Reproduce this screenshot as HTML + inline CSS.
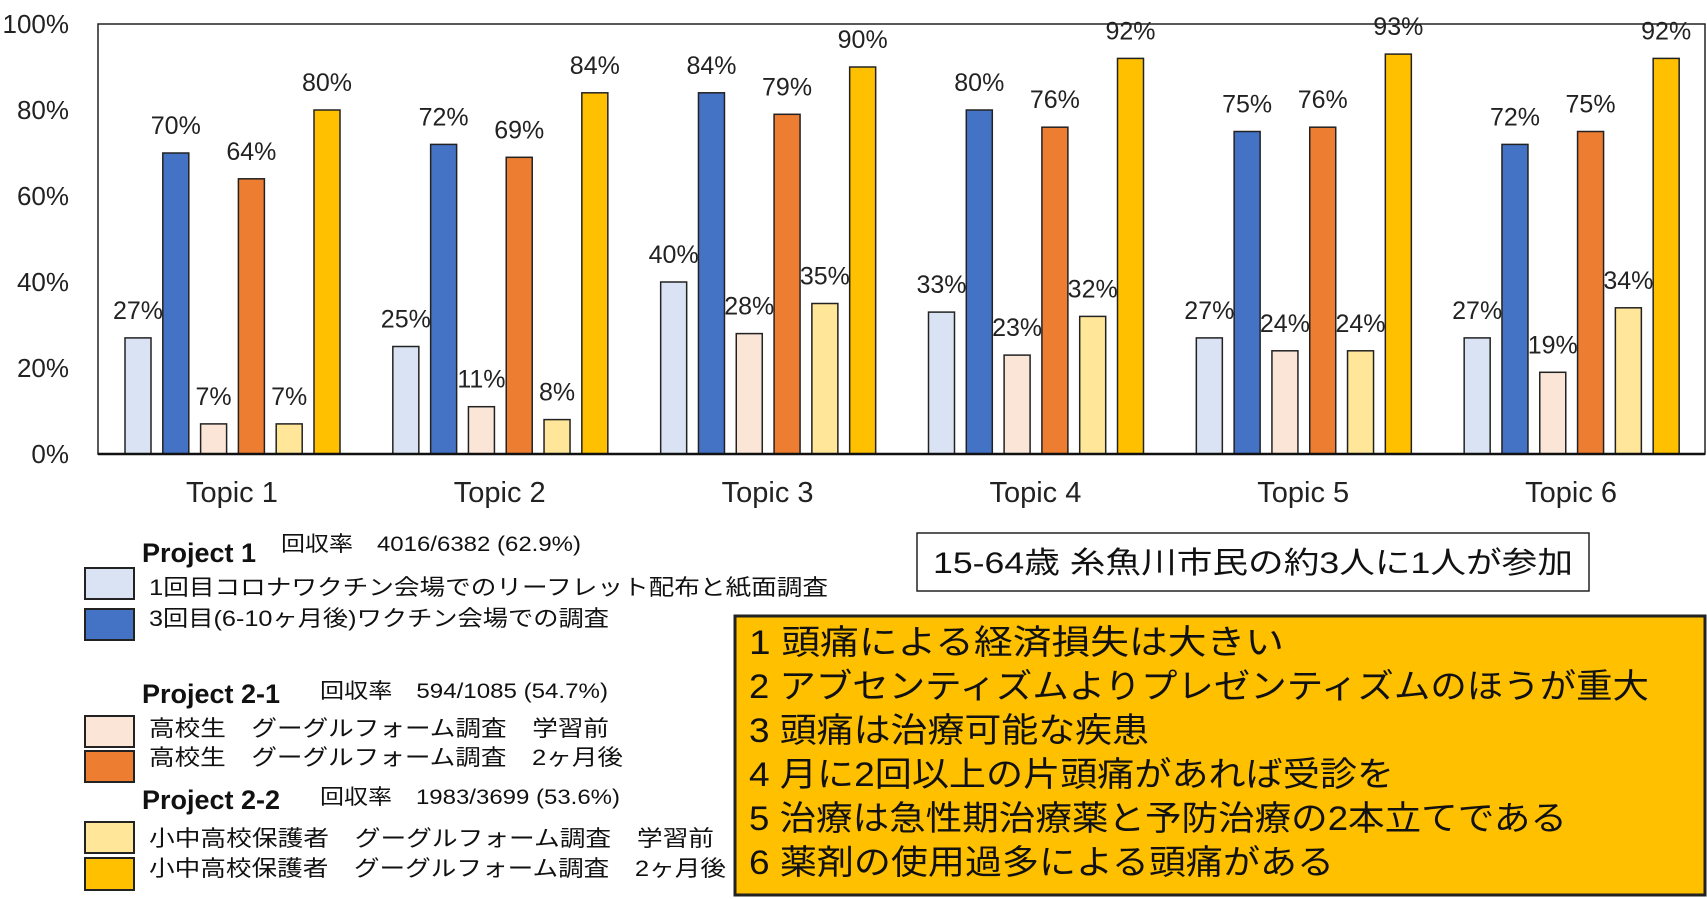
<!DOCTYPE html>
<html><head><meta charset="utf-8"><style>
html,body{margin:0;padding:0;background:#fff;}
svg{display:block;font-family:"Liberation Sans","Noto Sans CJK JP",sans-serif;}
</style></head><body>
<svg id="chart" width="1707" height="899" viewBox="0 0 1707 899" xmlns="http://www.w3.org/2000/svg">
<rect x="98" y="24" width="1607" height="430" fill="#fff" stroke="#222" stroke-width="1.5"/>
<g id="yticks"></g><g id="bars"></g><g id="xlabels"></g>
<line x1="98" y1="454" x2="1705" y2="454" stroke="#111" stroke-width="2.5"/>

<g font-family="Liberation Sans, Noto Sans CJK JP, sans-serif" fill="#111">
<text x="142" y="562" font-size="27" font-weight="bold">Project 1</text>
<text x="281" y="551" font-size="21" textLength="300" lengthAdjust="spacingAndGlyphs">回収率　4016/6382 (62.9%)</text>
<rect x="85" y="568" width="49" height="31" fill="#dae3f3" stroke="#222" stroke-width="2"/>
<text x="149" y="595" font-size="22" textLength="679" lengthAdjust="spacingAndGlyphs">1回目コロナワクチン会場でのリーフレット配布と紙面調査</text>
<rect x="85" y="609" width="49" height="31" fill="#4472c4" stroke="#222" stroke-width="2"/>
<text x="149" y="626" font-size="22" textLength="460" lengthAdjust="spacingAndGlyphs">3回目(6-10ヶ月後)ワクチン会場での調査</text>

<text x="142" y="703" font-size="27" font-weight="bold">Project 2-1</text>
<text x="320" y="698" font-size="21" textLength="288" lengthAdjust="spacingAndGlyphs">回収率　594/1085 (54.7%)</text>
<rect x="85" y="716" width="49" height="31" fill="#fbe5d6" stroke="#222" stroke-width="2"/>
<text x="149" y="736" font-size="22" textLength="460" lengthAdjust="spacingAndGlyphs">高校生　グーグルフォーム調査　学習前</text>
<rect x="85" y="751" width="49" height="31" fill="#ed7d31" stroke="#222" stroke-width="2"/>
<text x="149" y="765" font-size="22" textLength="474" lengthAdjust="spacingAndGlyphs">高校生　グーグルフォーム調査　2ヶ月後</text>

<text x="142" y="809" font-size="27" font-weight="bold">Project 2-2</text>
<text x="320" y="804" font-size="21" textLength="300" lengthAdjust="spacingAndGlyphs">回収率　1983/3699 (53.6%)</text>
<rect x="85" y="822" width="49" height="31" fill="#ffe699" stroke="#222" stroke-width="2"/>
<text x="149" y="846" font-size="22" textLength="565" lengthAdjust="spacingAndGlyphs">小中高校保護者　グーグルフォーム調査　学習前</text>
<rect x="85" y="858" width="49" height="32" fill="#ffc000" stroke="#222" stroke-width="2"/>
<text x="149" y="876" font-size="22" textLength="577" lengthAdjust="spacingAndGlyphs">小中高校保護者　グーグルフォーム調査　2ヶ月後</text>
</g>

<g>
<rect x="917" y="533" width="672" height="58" fill="#fff" stroke="#222" stroke-width="1.5"/>
<text x="933" y="573" font-size="30" fill="#111" textLength="640" lengthAdjust="spacingAndGlyphs">15-64歳 糸魚川市民の約3人に1人が参加</text>
</g>

<g fill="#111" font-size="34">
<rect x="735" y="616" width="970" height="279" fill="#ffc000" stroke="#222" stroke-width="3"/>
<text x="749" y="654" textLength="535" lengthAdjust="spacingAndGlyphs">1 頭痛による経済損失は大きい</text>
<text x="749" y="698" textLength="900" lengthAdjust="spacingAndGlyphs">2 アブセンティズムよりプレゼンティズムのほうが重大</text>
<text x="749" y="742" textLength="400" lengthAdjust="spacingAndGlyphs">3 頭痛は治療可能な疾患</text>
<text x="749" y="786" textLength="645" lengthAdjust="spacingAndGlyphs">4 月に2回以上の片頭痛があれば受診を</text>
<text x="749" y="830" textLength="818" lengthAdjust="spacingAndGlyphs">5 治療は急性期治療薬と予防治療の2本立てである</text>
<text x="749" y="874" textLength="585" lengthAdjust="spacingAndGlyphs">6 薬剤の使用過多による頭痛がある</text>
</g>
</svg>
<script>
const categories = ["Topic 1","Topic 2","Topic 3","Topic 4","Topic 5","Topic 6"];
const p1First  = [27,25,40,33,27,27];
const p1Third  = [70,72,84,80,75,72];
const p21Before= [7,11,28,23,24,19];
const p21After = [64,69,79,76,76,75];
const p22Before= [7,8,35,32,24,34];
const p22After = [80,84,90,92,93,92];
const yTicks = [0,20,40,60,80,100];

const series = [p1First,p1Third,p21Before,p21After,p22Before,p22After];
const colors = ["#dae3f3","#4472c4","#fbe5d6","#ed7d31","#ffe699","#ffc000"];
const NS = "http://www.w3.org/2000/svg";
const L=98, R=1705, T=24, B=454;
const band=(R-L)/categories.length;
const y = v => B - (v/100)*(B-T);
const xBar = (ci,si) => L + ci*band + 27 + si*37.8;
const bw=26;
function mk(tag,attrs,parent){const e=document.createElementNS(NS,tag);for(const k in attrs)e.setAttribute(k,attrs[k]);parent.appendChild(e);return e;}
const gy=document.getElementById('yticks'), gb=document.getElementById('bars'), gx=document.getElementById('xlabels');
yTicks.forEach(t=>{
  const e=mk('text',{x:69,y:y(t)+9,'font-size':26,'text-anchor':'end',fill:'#222'},gy);
  e.textContent=t+'%';
  
  
});
categories.forEach((c,ci)=>{
  const e=mk('text',{x:L+ci*band+band/2,y:502,'font-size':29,'text-anchor':'middle',fill:'#222'},gx);
  e.textContent=c;
  
  
  series.forEach((s,si)=>{
    const v=s[ci], x=xBar(ci,si);
    const r=mk('rect',{x:x,y:y(v),width:bw,height:B-y(v),fill:colors[si],stroke:'#222','stroke-width':1.5},gb);
    
    
    const lb=mk('text',{x:x+bw/2,y:y(v)-19,'font-size':25,'text-anchor':'middle',fill:'#222'},gb);
    lb.textContent=v+'%';
    
    
  });
});
</script>
</body></html>
